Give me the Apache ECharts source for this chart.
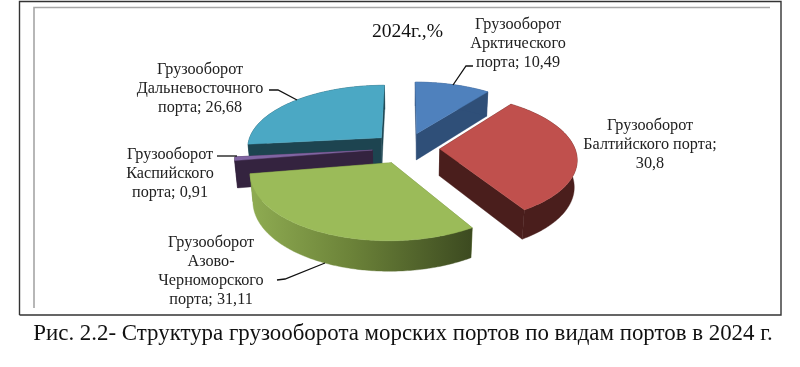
<!DOCTYPE html>
<html><head><meta charset="utf-8">
<style>html,body{margin:0;padding:0;background:#fff}#c{width:800px;height:367px}</style>
<script src="https://cdn.jsdelivr.net/npm/echarts@6/dist/echarts.min.js"></script>
</head><body><div id="c"></div>
<script>
const categories = ['Грузооборот\nАрктического\nпорта','Грузооборот\nБалтийского порта','Грузооборот\nАзово-\nЧерноморского\nпорта','Грузооборот\nКаспийского\nпорта','Грузооборот\nДальневосточного\nпорта'];
const values = [10.49, 30.8, 31.11, 0.91, 26.68];
const separators = ['; ', ';\n', '; ', '; ', '; '];
const topColors = ['#4F81BD','#C0504D','#9BBB59','#8064A2','#4BA8C4'];
const wallColors = ['#2F4F78','#4A1E1C','#6C8339','#34233F','#1D4450'];
const labelCenters = [[518,24],[650,125],[211,242],[170,154],[200,69]];
const leaders = [[[473,66],[466,66],[453,85]],[],[[277,280],[285,279],[325,263]],[[217,156],[237,156]],[[269,90],[278,90],[297,100]]];
const chartTitle = '2024г.,%';
const caption = 'Рис. 2.2- Структура грузооборота морских портов по видам портов в 2024 г.';

const FONT = '"Liberation Serif","Times New Roman",serif';
const CX = 406, CY = 148, R = 135, TILT = 27.6*Math.PI/180, D = 6.3, EXPLODE = 0.25, DEPTH = 0.228;
const total = values.reduce((a,b)=>a+b,0);
const starts = []; values.reduce((acc,v,i)=>{starts[i]=acc; return acc+v;},0);
const ang = v => v/total*2*Math.PI;

function project(x,y,z){
  const up = z*Math.cos(TILT) - y*Math.sin(TILT);
  const near = y*Math.cos(TILT) + z*Math.sin(TILT);
  const s = D/(D-near);
  return [CX + R*x*s, CY - R*up*s];
}
function sliceFaces(i){
  const a0 = ang(starts[i]), a1 = a0 + ang(values[i]), mid=(a0+a1)/2;
  const ox = EXPLODE*Math.sin(mid), oy = -EXPLODE*Math.cos(mid);
  const rim = z => { const pts=[]; const n=Math.max(2,Math.ceil((a1-a0)/0.015));
    for(let k=0;k<=n;k++){const a=a0+(a1-a0)*k/n; pts.push(project(ox+Math.sin(a),oy-Math.cos(a),z));}
    return pts; };
  const apex = z => project(ox,oy,z);
  const topRim = rim(0), botRim = rim(-DEPTH);
  const last = topRim.length-1;
  return {
    top:[apex(0)].concat(topRim),
    outer:topRim.concat(botRim.slice().reverse()),
    edgeStart:[apex(0),topRim[0],botRim[0],apex(-DEPTH)],
    edgeEnd:[apex(0),topRim[last],botRim[last],apex(-DEPTH)]
  };
}
const midAngle = i => ang(starts[i])+ang(values[i])/2;
const paintOrder = values.map((v,i)=>i).sort((p,q)=>Math.cos(midAngle(q))-Math.cos(midAngle(p)));
const azovGradient = new echarts.graphic.LinearGradient(0,0,1,0,[
  {offset:0,color:'#8FAC52'},{offset:0.45,color:'#6C8339'},{offset:1,color:'#3C4A20'}]);

const poly = (points,fill)=>({type:'polygon',shape:{points},style:{fill,stroke:fill,lineWidth:0.4},silent:true});
function renderItem(params){
  const i = paintOrder[params.dataIndex];
  const f = sliceFaces(i);
  const wall = i===2 ? azovGradient : wallColors[i];
  return {type:'group',children:[
    poly(f.edgeStart,wallColors[i]),
    poly(f.edgeEnd,wallColors[i]),
    poly(f.outer,wall),
    poly(f.top,topColors[i])
  ]};
}
const line=(pts,color,w)=>({type:'polyline',shape:{points:pts},style:{stroke:color,fill:null,lineWidth:w},silent:true,z:5});
const graphics = [
  line([[19.5,315],[19.5,1.5],[781,1.5],[781,315],[19.5,315]],'#333',1.4),
  line([[34,308],[34,7.5],[770,7.5]],'#a6a6a6',1.6),
  {type:'text',x:407.5,y:32,z:6,silent:true,style:{text:chartTitle,font:'19.6px '+FONT,fill:'#111',align:'center',verticalAlign:'middle'}},
  {type:'text',x:403,y:334,z:6,silent:true,style:{text:caption,font:'22.9px '+FONT,fill:'#111',align:'center',verticalAlign:'middle'}}
];
categories.forEach((c,i)=>{
  const txt = c + separators[i] + String(values[i]).replace('.',',');
  graphics.push({type:'text',x:labelCenters[i][0],y:labelCenters[i][1]-9,z:6,silent:true,
    style:{text:txt,font:'16.2px '+FONT,lineHeight:19,fill:'#222',align:'center',verticalAlign:'top'}});
  if(leaders[i].length) graphics.push(line(leaders[i],'#111',1.3));
});
const chart = echarts.init(document.getElementById('c'),null,{renderer:'canvas'});
chart.setOption({
  animation:false,
  backgroundColor:'#fff',
  graphic:{elements:graphics},
  series:[{type:'custom',coordinateSystem:'none',renderItem,silent:true,
    data:paintOrder.map(i=>[values[i],i])}]
});
</script></body></html>
